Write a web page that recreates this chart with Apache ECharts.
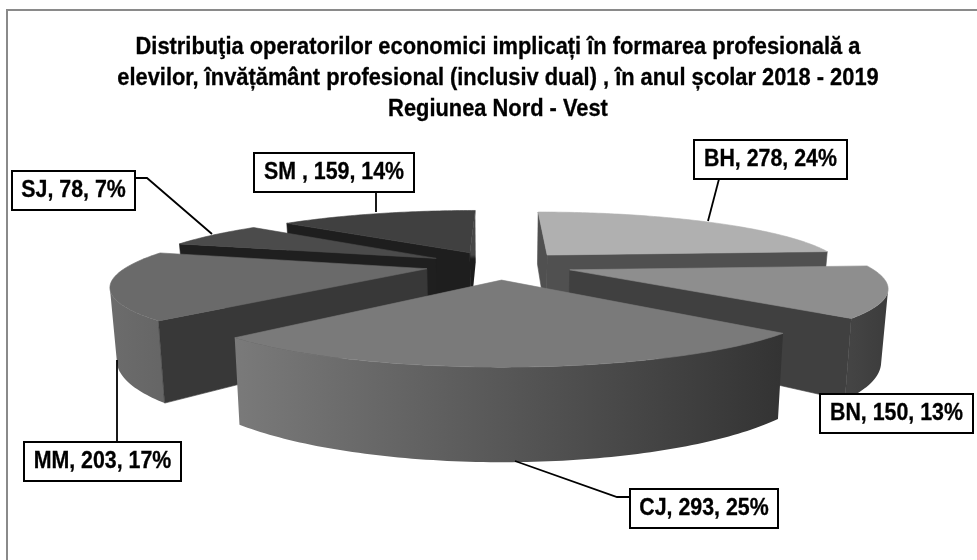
<!DOCTYPE html>
<html>
<head>
<meta charset="utf-8">
<style>
  html, body { margin: 0; padding: 0; background: #fff; }
  #chart { width: 977px; height: 560px; }
</style>
<script src="https://cdn.jsdelivr.net/npm/echarts@6/dist/echarts.min.js"></script>
</head>
<body>
<div id="chart"></div>
<script>
const categories = ['BH', 'BN', 'CJ', 'MM', 'SJ', 'SM ']
const values = [278, 150, 293, 203, 78, 159]
const titleLines = [
  'Distribuţia operatorilor economici implicați în formarea profesională a',
  'elevilor, învățământ profesional (inclusiv dual) , în anul școlar 2018 - 2019',
  'Regiunea Nord - Vest'
]

// paint order, back to front
const paintOrder = [5, 0, 4, 3, 1, 2]
const topColors = ['#b0b0b0', '#8e8e8e', '#7a7a7a', '#6a6a6a', '#4b4b4b', '#404040']
const wallColors = ['#505050', '#404040', '#333333', '#383838', '#1f1f1f', '#1e1e1e']
const sideColors = [['#6a6a6a', '#555555'], ['#444444', '#3c3c3c'], ['#7a7a7a', '#333333'],
  ['#6c6c6c', '#666666'], ['#2a2a2a', '#2a2a2a'], ['#333333', '#333333']]

// projection fitted to the picture: a tilted plane with its horizon at horizonY
const cx = 499
const horizonY = 24
const B = 241
const A = 298
const k = 0.2388
const explode = 0.2467
const bottomY = 1.277
const bottomX = 0.982

// label boxes: x, y, w, h and leader polyline
const labelBoxes = [
  { box: [694, 140, 153, 39], leader: [[719, 179], [708, 221]] },
  { box: [820, 394, 153, 39], leader: null },
  { box: [630, 489, 148, 39], leader: [[515, 461], [617, 497], [630, 497]] },
  { box: [24, 442, 157, 39], leader: [[117, 442], [117, 360]] },
  { box: [12, 171, 123, 39], leader: [[135, 178], [147, 178], [212, 234]] },
  { box: [254, 153, 160, 39], leader: [[376, 192], [376, 212]] }
]

const total = values.reduce((a, b) => a + b, 0)
const rad = Math.PI / 180

function project(theta, r, off, bottom) {
  const X = r * Math.sin(theta) + off[0]
  const Y = r * Math.cos(theta) + off[1]
  const d = 1 + k * Y
  let sx = A * X / d
  let sy = B / d
  if (bottom) { sx *= bottomX; sy *= bottomY }
  return [cx + sx, horizonY + sy]
}

function area(p) {
  let s = 0
  for (let i = 0; i < p.length; i++) {
    const q = p[(i + 1) % p.length]
    s += p[i][0] * q[1] - q[0] * p[i][1]
  }
  return s / 2
}

function poly(points, fill, z2) {
  return {
    type: 'polygon',
    z2,
    shape: { points },
    style: { fill, stroke: typeof fill === 'string' ? fill : null, lineWidth: 0.6 },
    silent: true
  }
}

function sliceAngles(idx) {
  let sum = 0
  for (let i = 0; i < idx; i++) sum += values[i]
  return [sum / total * 2 * Math.PI, (sum + values[idx]) / total * 2 * Math.PI]
}

function renderSlice(params, api) {
  const idx = params.dataIndex
  const [a0, a1] = sliceAngles(idx)
  const mid = (a0 + a1) / 2
  const off = [explode * Math.sin(mid), explode * Math.cos(mid)]
  const z = paintOrder.indexOf(idx) * 10 + 1
  const children = []
  const n = Math.ceil((a1 - a0) / rad)
  const at = i => a0 + (a1 - a0) * i / n

  // outer band, only the part facing the viewer
  const upper = [], lower = []
  for (let i = 0; i < n; i++) {
    const q = [project(at(i), 1, off, false), project(at(i + 1), 1, off, false),
      project(at(i + 1), 1, off, true), project(at(i), 1, off, true)]
    if (area(q) >= 0) continue
    if (!upper.length) { upper.push(q[0]); lower.push(q[3]) }
    upper.push(q[1])
    lower.push(q[2])
  }
  if (upper.length) {
    const xs = upper.map(p => p[0])
    children.push({
      type: 'polygon',
      z2: z,
      silent: true,
      shape: { points: upper.concat(lower.reverse()) },
      style: {
        fill: {
          type: 'linear', global: true,
          x: Math.min(...xs), y: 0, x2: Math.max(...xs), y2: 0,
          colorStops: [{ offset: 0, color: sideColors[idx][0] }, { offset: 1, color: sideColors[idx][1] }]
        }
      }
    })
  }

  // radial walls
  const wall = theta => [project(0, 0, off, false), project(theta, 1, off, false),
    project(theta, 1, off, true), project(0, 0, off, true)]
  const w0 = wall(a0), w1 = wall(a1)
  if (area(w1) > 0) {
    // the end wall of SM is lit above the hub and dark below it
    const fill = idx === 5 ? {
      type: 'linear', x: 0, y: 0, x2: 0, y2: 1,
      colorStops: [{ offset: 0, color: '#474747' }, { offset: 0.42, color: '#474747' },
        { offset: 0.46, color: '#1c1c1c' }, { offset: 1, color: '#1c1c1c' }]
    } : wallColors[idx]
    children.push(poly(w1, fill, z + 1))
  }
  if (area(w0) < 0) children.push(poly(w0, wallColors[idx], z + 1))

  // top face
  const top = [project(0, 0, off, false)]
  for (let i = 0; i <= n; i++) top.push(project(at(i), 1, off, false))
  children.push(poly(top, topColors[idx], z + 2))

  return { type: 'group', children }
}

function labelElements() {
  const out = []
  labelBoxes.forEach((l, i) => {
    const pct = Math.round(values[i] / total * 100)
    if (l.leader) {
      out.push({
        type: 'polyline', z: 100, silent: true,
        shape: { points: l.leader },
        style: { fill: null, stroke: '#000', lineWidth: 1.8 }
      })
    }
    out.push({
      type: 'rect', z: 101, silent: true,
      shape: { x: l.box[0], y: l.box[1], width: l.box[2], height: l.box[3] },
      style: { fill: '#fff', stroke: '#000', lineWidth: 2 }
    })
    out.push({
      type: 'text', z: 102, silent: true,
      x: l.box[0] + l.box[2] / 2, y: l.box[1] + l.box[3] / 2,
      scaleX: 0.89,
      style: {
        text: `${categories[i]}, ${values[i]}, ${pct}%`,
        fill: '#000', stroke: '#000', lineWidth: 0.3,
        align: 'center', verticalAlign: 'middle',
        font: 'bold 24px "Liberation Sans", Arial, sans-serif'
      }
    })
  })
  return out
}

const chart = echarts.init(document.getElementById('chart'), null, { renderer: 'canvas' })
chart.setOption({
  animation: false,
  backgroundColor: '#fff',
  tooltip: { show: false },
  graphic: [
    // frame runs off the picture on the right and at the bottom
    {
      type: 'polyline', silent: true, z: 0,
      shape: { points: [[7, 560], [7, 10], [977, 10]] },
      style: { fill: null, stroke: '#8a8a8a', lineWidth: 2 }
    },
    ...titleLines.map((line, i) => ({
      type: 'text', silent: true, z: 10,
      x: 498, y: 47.5 + i * 31,
      scaleX: 0.95,
      style: {
        text: line,
        fill: '#000', stroke: '#000', lineWidth: 0.3,
        align: 'center', verticalAlign: 'middle',
        font: 'bold 23px "Liberation Sans", Arial, sans-serif'
      }
    })),
    ...labelElements()
  ],
  series: [{
    type: 'custom',
    coordinateSystem: 'none',
    silent: true,
    z: 5,
    data: values,
    renderItem: renderSlice
  }]
})
</script>
</body>
</html>
